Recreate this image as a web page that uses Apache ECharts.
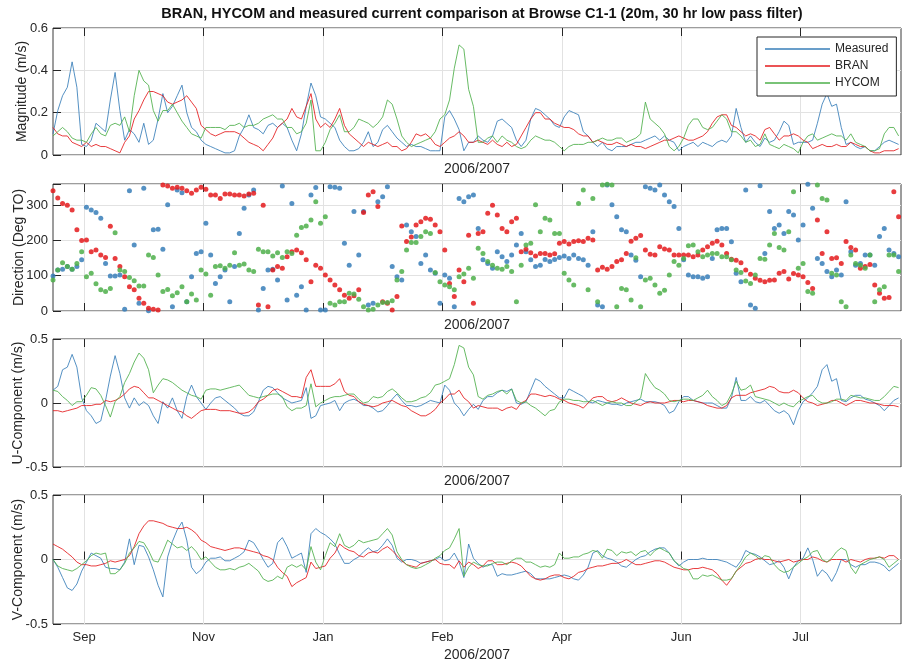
<!DOCTYPE html>
<html>
<head>
<meta charset="utf-8">
<script src="https://cdn.jsdelivr.net/npm/echarts@6/dist/echarts.min.js"></script>
<style>html,body{margin:0;padding:0;background:#fff}#c{width:902px;height:664px}</style>
</head>
<body>
<div id="c"></div>
<script>
// Time grid: day numbers (datenum - 732900), first sample and spacing
const startDay = 37, stepDays = 2;
const xMin = 37, xMax = 392;
const tickDays = [50, 100, 150, 200, 250, 300, 350];
const tickLabels = ['Sep', 'Nov', 'Jan', 'Feb', 'Apr', 'Jun', 'Jul'];
const xName = '2006/2007';
const titleText = 'BRAN, HYCOM and measured current comparison at Browse C1-1 (20m, 30 hr low pass filter)';
const seriesNames = ['Measured', 'BRAN', 'HYCOM'];

const magMeas = [0.10,0.21,0.28,0.32,0.44,0.32,0.05,0.04,0.07,0.15,
0.13,0.11,0.26,0.39,0.21,0.07,0.12,0.10,0.06,0.15,
0.05,0.07,0.17,0.29,0.20,0.23,0.28,0.33,0.20,0.13,
0.11,0.07,0.05,0.04,0.03,0.02,0.01,0.01,0.02,0.09,
0.13,0.19,0.13,0.12,0.10,0.14,0.15,0.13,0.15,0.13,
0.07,0.02,0.10,0.23,0.34,0.28,0.18,0.17,0.15,0.13,
0.07,0.04,0.02,0.02,0.03,0.06,0.11,0.04,0.06,0.12,
0.14,0.11,0.08,0.06,0.04,0.05,0.04,0.04,0.03,0.02,
0.02,0.02,0.18,0.21,0.17,0.12,0.02,0.06,0.06,0.09,
0.07,0.06,0.09,0.16,0.17,0.15,0.13,0.07,0.04,0.07,
0.17,0.22,0.21,0.19,0.17,0.14,0.13,0.18,0.21,0.20,
0.19,0.11,0.09,0.06,0.04,0.06,0.03,0.02,0.04,0.04,
0.04,0.05,0.06,0.06,0.07,0.08,0.09,0.07,0.09,0.07,
0.06,0.02,0.04,0.05,0.06,0.04,0.06,0.05,0.04,0.06,
0.07,0.06,0.09,0.22,0.13,0.06,0.09,0.06,0.04,0.08,
0.06,0.07,0.11,0.16,0.14,0.05,0.06,0.06,0.06,0.07,
0.15,0.24,0.29,0.23,0.24,0.13,0.05,0.06,0.04,0.03,
0.04,0.02,0.02,0.04,0.06,0.07,0.06,0.05];

const magBran = [0.13,0.10,0.09,0.09,0.06,0.05,0.04,0.06,0.04,0.05,
0.04,0.04,0.03,0.02,0.01,0.06,0.09,0.17,0.21,0.26,
0.30,0.30,0.29,0.28,0.25,0.24,0.25,0.26,0.28,0.25,
0.22,0.14,0.12,0.10,0.09,0.10,0.11,0.11,0.11,0.10,
0.08,0.06,0.05,0.04,0.02,0.05,0.08,0.13,0.15,0.17,
0.22,0.18,0.17,0.23,0.29,0.17,0.13,0.15,0.13,0.17,
0.22,0.14,0.10,0.08,0.06,0.04,0.06,0.05,0.04,0.05,
0.06,0.04,0.04,0.02,0.03,0.06,0.10,0.09,0.10,0.08,
0.05,0.04,0.06,0.08,0.09,0.11,0.09,0.06,0.06,0.07,
0.06,0.05,0.07,0.05,0.04,0.06,0.04,0.05,0.09,0.13,
0.17,0.20,0.20,0.17,0.17,0.15,0.14,0.13,0.13,0.12,
0.10,0.09,0.09,0.06,0.07,0.06,0.05,0.05,0.06,0.05,
0.04,0.05,0.04,0.04,0.03,0.04,0.05,0.06,0.07,0.07,
0.08,0.09,0.08,0.07,0.07,0.08,0.09,0.11,0.15,0.18,
0.19,0.19,0.14,0.13,0.11,0.09,0.10,0.09,0.07,0.12,
0.13,0.10,0.07,0.09,0.09,0.10,0.09,0.07,0.06,0.03,
0.04,0.05,0.04,0.04,0.05,0.04,0.04,0.06,0.05,0.04,
0.04,0.02,0.01,0.01,0.02,0.02,0.02,0.03];

const magHycom = [0.09,0.11,0.13,0.11,0.08,0.07,0.07,0.06,0.10,0.13,
0.10,0.09,0.14,0.15,0.14,0.18,0.11,0.28,0.40,0.35,
0.33,0.21,0.16,0.21,0.21,0.24,0.20,0.16,0.13,0.10,
0.09,0.08,0.13,0.13,0.13,0.13,0.12,0.14,0.14,0.15,
0.13,0.14,0.14,0.15,0.17,0.18,0.19,0.17,0.17,0.13,
0.13,0.10,0.11,0.15,0.26,0.02,0.02,0.06,0.12,0.15,
0.19,0.11,0.11,0.13,0.17,0.16,0.15,0.13,0.15,0.18,
0.26,0.24,0.17,0.09,0.06,0.04,0.05,0.06,0.07,0.08,
0.11,0.17,0.19,0.26,0.41,0.52,0.50,0.31,0.23,0.06,
0.06,0.08,0.09,0.06,0.09,0.07,0.06,0.04,0.03,0.04,
0.07,0.09,0.08,0.07,0.07,0.06,0.04,0.02,0.04,0.05,
0.05,0.05,0.06,0.06,0.07,0.08,0.07,0.07,0.08,0.08,
0.06,0.07,0.08,0.10,0.25,0.17,0.15,0.13,0.10,0.04,
0.02,0.04,0.08,0.14,0.17,0.17,0.13,0.12,0.13,0.16,
0.19,0.17,0.11,0.11,0.09,0.06,0.07,0.04,0.05,0.10,
0.05,0.04,0.03,0.05,0.04,0.03,0.01,0.06,0.09,0.10,
0.07,0.08,0.09,0.10,0.09,0.09,0.07,0.10,0.06,0.05,
0.04,0.02,0.02,0.03,0.10,0.13,0.13,0.09];

const dirMeas = [99,116,118,126,118,126,145,294,286,279,
263,135,99,99,102,5,341,187,22,348,
1,230,232,175,301,12,343,335,26,97,
163,168,249,159,78,97,116,26,126,220,
291,329,343,3,64,116,118,88,354,31,
305,45,69,3,329,350,3,3,352,351,
348,192,130,282,159,282,17,22,310,324,
352,126,97,88,244,225,211,135,159,116,
107,22,102,93,12,319,310,324,329,234,
145,135,121,168,154,140,159,187,220,168,
145,126,130,146,140,146,152,156,149,159,
149,145,130,225,17,12,357,301,267,230,
225,159,144,97,352,348,343,357,329,310,
296,234,145,102,97,97,93,97,149,230,
234,234,196,107,83,343,17,8,355,163,
282,234,244,220,282,272,201,244,359,291,
149,135,112,97,116,102,310,168,130,135,
159,159,130,211,234,173,163,154];

const dirBran = [341,320,305,300,286,230,200,201,168,173,
159,152,240,149,126,97,69,60,36,22,
8,5,3,357,354,348,351,348,341,334,
343,351,345,329,329,319,332,332,329,329,
326,332,334,17,300,12,116,126,121,154,
168,173,165,145,83,130,121,102,88,74,
60,45,36,43,60,279,329,338,296,26,
22,3,41,241,197,210,244,253,263,260,
244,225,173,78,41,116,83,215,22,220,
225,277,300,272,234,225,253,263,168,175,
165,156,163,163,159,162,192,197,190,197,
199,197,206,201,116,124,118,126,140,145,
163,198,206,214,173,161,159,182,176,173,
159,159,159,159,154,159,173,182,192,198,
187,163,147,144,137,116,104,93,87,83,
87,88,107,112,91,106,102,97,81,64,
258,163,225,149,151,135,197,180,173,121,
126,132,74,50,36,38,338,267];

const dirHycom = [88,116,137,126,118,135,168,97,107,77,
60,55,64,222,116,112,95,86,71,71,
159,152,102,55,61,43,52,69,26,48,
31,116,105,45,126,128,121,130,165,130,
133,116,112,175,168,168,156,165,152,168,
163,215,237,241,258,310,249,267,22,17,
26,26,50,48,33,12,3,5,17,24,
24,29,88,112,173,194,194,211,225,220,
109,83,74,69,60,97,105,121,93,178,
163,140,130,121,118,126,112,26,130,187,
192,301,225,263,258,220,220,107,88,74,
305,343,60,319,26,357,359,357,12,64,
60,31,151,12,88,93,74,50,59,102,
140,130,149,185,187,168,154,159,163,163,
154,154,145,116,109,85,78,102,149,147,
187,220,180,173,225,338,121,135,55,50,
357,319,315,107,102,26,12,159,135,130,
121,159,26,60,69,159,159,112];

const uMeas = [0.10,0.13,0.26,0.28,0.38,0.28,0.04,-0.06,-0.10,-0.16,
-0.14,0.02,0.21,0.37,0.23,0.04,-0.04,0.04,-0.02,0.01,
-0.02,-0.10,-0.16,0.01,-0.04,0.04,-0.06,-0.12,0.05,0.14,
0.05,0.00,-0.05,0.00,0.04,0.05,0.02,-0.01,-0.04,-0.08,
-0.10,-0.10,-0.07,0.01,0.10,0.13,0.12,0.08,0.04,0.02,
0.00,0.01,0.02,0.12,-0.12,-0.10,-0.02,-0.01,0.00,0.02,
-0.06,0.00,0.02,0.03,0.01,-0.02,-0.02,-0.04,-0.07,-0.06,
-0.02,0.03,0.07,0.02,-0.02,-0.02,-0.03,-0.02,0.00,0.02,
0.01,0.00,0.14,0.10,0.00,-0.04,-0.10,-0.05,-0.01,-0.05,
0.02,0.05,0.05,0.08,0.10,0.09,0.11,0.00,-0.01,0.01,
0.10,0.19,0.17,0.13,0.10,0.07,0.04,0.04,0.11,0.09,
0.07,0.05,0.01,0.00,0.02,0.01,0.00,-0.01,-0.01,-0.02,
0.00,0.01,0.02,0.03,0.01,0.01,0.01,0.00,-0.02,-0.08,
-0.06,0.01,0.05,0.05,0.02,0.01,0.00,0.00,0.00,-0.02,
-0.04,-0.04,0.04,0.20,0.02,0.02,0.05,0.01,0.00,0.02,
-0.02,-0.06,-0.08,-0.06,-0.09,-0.17,-0.06,0.01,0.04,0.08,
0.13,0.26,0.30,0.17,0.19,0.02,0.01,0.04,0.06,0.06,
0.03,0.02,0.00,-0.02,-0.06,-0.02,0.02,0.04];

const uBran = [-0.06,-0.06,-0.07,-0.06,-0.05,-0.04,-0.02,-0.02,-0.02,-0.01,
-0.01,0.02,0.01,0.02,0.04,0.07,0.11,0.13,0.12,0.08,
0.04,0.04,0.02,0.00,-0.02,-0.04,-0.06,-0.07,-0.10,-0.12,
-0.09,-0.06,-0.05,-0.05,-0.05,-0.06,-0.06,-0.06,-0.07,-0.08,
-0.08,-0.07,-0.04,0.01,0.03,0.06,0.10,0.11,0.09,0.07,
0.05,0.05,0.04,0.20,0.26,0.13,0.13,0.13,0.13,0.15,
0.19,0.09,0.06,0.05,0.01,-0.01,-0.02,-0.03,-0.02,0.00,
0.01,0.02,0.00,-0.02,-0.03,-0.06,-0.08,-0.10,-0.10,-0.08,
-0.05,0.00,0.03,0.07,0.07,0.10,0.04,0.01,-0.04,-0.02,
-0.03,-0.04,-0.04,-0.04,-0.06,-0.04,-0.03,-0.05,0.00,0.02,
0.07,0.07,0.06,0.05,0.06,0.05,0.03,0.02,0.00,-0.01,
-0.02,-0.04,0.00,0.04,0.05,0.05,0.02,0.01,0.02,0.04,
0.02,0.00,-0.01,-0.02,0.00,0.01,0.00,0.00,0.00,0.01,
0.02,0.02,0.01,0.02,0.02,0.01,0.00,-0.02,-0.03,-0.04,
-0.04,-0.02,0.04,0.06,0.06,0.06,0.08,0.09,0.10,0.11,
0.13,0.12,0.09,0.08,0.08,0.10,0.08,0.04,0.01,0.00,
-0.02,-0.01,0.00,0.02,0.02,0.00,-0.02,0.00,0.02,0.02,
0.01,0.00,0.00,-0.01,-0.02,-0.02,-0.02,-0.03];

const uHycom = [0.10,0.09,0.05,0.02,-0.02,0.01,0.01,0.06,0.12,0.11,
0.06,-0.02,-0.11,0.01,0.05,0.16,0.23,0.32,0.39,0.35,
0.26,0.08,0.14,0.19,0.18,0.16,0.13,0.10,0.08,0.06,
0.05,0.03,0.10,0.11,0.11,0.10,0.11,0.12,0.13,0.14,
0.10,0.06,0.05,0.04,0.05,0.06,0.07,0.07,0.05,-0.03,
-0.06,-0.04,-0.04,-0.02,0.15,-0.03,0.00,0.02,0.04,0.05,
0.05,0.06,0.07,0.07,0.03,0.00,0.01,0.05,0.04,0.05,
0.09,0.11,0.08,0.04,0.01,0.01,0.02,0.04,0.05,0.08,
0.14,0.15,0.17,0.19,0.30,0.45,0.43,0.28,0.22,0.05,
0.03,0.06,0.07,0.09,0.10,0.07,0.11,0.02,0.00,0.01,
-0.02,-0.04,-0.07,-0.10,-0.06,-0.05,0.01,0.03,0.03,0.02,
0.02,0.01,0.01,0.02,0.00,-0.02,0.00,0.01,0.00,0.00,
-0.02,-0.02,0.01,0.04,0.23,0.17,0.12,0.10,0.07,0.02,
0.01,0.02,0.03,0.03,0.02,0.04,0.06,0.10,0.05,0.02,
-0.02,0.00,0.07,0.17,0.10,0.11,0.14,0.05,0.04,0.03,
0.02,0.00,-0.02,0.00,-0.02,-0.03,0.01,0.03,0.05,0.06,
0.02,0.00,0.00,0.01,0.03,0.03,0.02,0.06,0.05,0.04,
0.04,0.03,0.02,0.02,0.05,0.09,0.13,0.12];

const vMeas = [0.00,-0.06,-0.14,-0.22,-0.24,-0.19,-0.09,-0.02,0.05,0.03,
0.01,-0.06,-0.07,-0.07,-0.08,-0.02,0.16,-0.04,0.11,0.10,
0.02,-0.08,-0.20,-0.29,0.02,0.14,0.23,0.29,0.15,-0.06,
-0.11,-0.08,-0.02,0.01,0.01,0.02,-0.01,-0.01,0.01,0.03,
0.06,0.15,0.13,0.07,0.00,-0.06,-0.03,0.13,0.17,0.10,
0.01,0.03,0.05,-0.10,0.20,0.24,0.21,0.19,0.16,0.12,
0.04,-0.03,-0.03,0.00,0.02,0.06,0.09,0.06,0.07,0.11,
0.16,0.11,0.01,-0.02,0.00,0.00,-0.01,-0.03,-0.02,-0.01,
0.00,0.02,-0.01,0.00,0.05,-0.02,-0.14,0.12,0.01,-0.03,
-0.06,-0.04,-0.04,-0.13,-0.11,-0.12,-0.12,-0.11,-0.10,-0.09,
-0.11,-0.15,-0.15,-0.15,-0.15,-0.14,-0.13,-0.12,-0.13,-0.15,
-0.16,-0.12,-0.06,0.05,0.07,0.03,0.01,0.00,-0.02,-0.05,
-0.06,-0.03,0.00,0.02,0.03,0.06,0.08,0.09,0.09,0.05,
-0.01,-0.05,-0.02,0.00,0.00,0.00,0.01,0.00,0.00,0.00,
-0.01,-0.02,-0.04,-0.06,-0.01,0.07,0.05,0.04,0.02,-0.01,
-0.04,-0.03,-0.01,-0.06,-0.15,-0.06,-0.01,0.01,0.09,0.00,
-0.13,-0.08,-0.11,-0.17,-0.10,0.00,0.00,-0.04,-0.06,-0.04,
-0.04,-0.02,-0.02,-0.03,-0.05,-0.09,-0.06,-0.03];

const vBran = [0.12,0.10,0.08,0.05,0.02,-0.02,-0.04,-0.04,-0.05,-0.05,
-0.04,-0.03,-0.01,-0.02,-0.01,0.00,0.03,0.10,0.20,0.26,
0.30,0.30,0.29,0.28,0.26,0.25,0.24,0.24,0.25,0.23,
0.20,0.15,0.13,0.10,0.09,0.08,0.07,0.08,0.09,0.09,
0.08,0.07,0.06,0.05,0.03,0.02,0.00,-0.06,-0.10,-0.13,
-0.21,-0.18,-0.16,-0.14,-0.02,-0.07,-0.06,-0.05,0.01,0.05,
0.12,0.09,0.07,0.06,0.03,0.02,0.05,0.06,0.05,0.08,
0.10,0.07,0.03,-0.01,-0.04,-0.05,-0.06,-0.03,-0.02,-0.01,
0.00,-0.03,-0.04,-0.04,-0.07,-0.01,-0.06,-0.02,-0.04,-0.07,
-0.05,-0.01,-0.01,-0.04,-0.04,-0.03,-0.02,-0.03,-0.05,-0.09,
-0.13,-0.15,-0.16,-0.15,-0.13,-0.12,-0.12,-0.14,-0.15,-0.13,
-0.10,-0.09,-0.07,-0.06,-0.05,-0.05,-0.04,-0.03,-0.03,-0.02,
0.00,-0.02,-0.04,-0.04,-0.03,-0.02,-0.01,-0.01,-0.02,-0.04,
-0.06,-0.07,-0.08,-0.08,-0.07,-0.07,-0.06,-0.07,-0.08,-0.11,
-0.16,-0.20,-0.15,-0.09,-0.06,-0.03,-0.02,0.00,0.01,0.00,
0.00,-0.01,-0.02,-0.01,0.00,-0.02,-0.01,0.00,0.00,0.02,
0.01,-0.01,-0.02,0.00,0.00,0.00,-0.02,0.00,-0.01,-0.02,
0.00,0.01,0.01,0.02,0.01,0.03,0.03,0.00];

const vHycom = [0.00,-0.05,-0.07,-0.08,-0.09,-0.07,-0.04,-0.01,0.03,0.05,
0.04,0.05,-0.11,-0.11,-0.08,-0.03,0.05,0.09,0.14,0.13,
0.07,-0.01,-0.02,0.06,0.15,0.12,0.09,0.10,0.07,0.10,
0.06,0.00,0.02,-0.02,-0.06,-0.08,-0.08,-0.07,-0.08,-0.06,
-0.05,-0.03,-0.06,-0.09,-0.15,-0.17,-0.16,-0.13,-0.15,-0.06,
-0.04,-0.06,-0.04,-0.08,0.10,-0.02,-0.08,0.03,0.13,0.10,
0.20,0.11,0.09,0.11,0.15,0.13,0.14,0.15,0.16,0.20,
0.24,0.19,0.06,0.00,-0.04,-0.06,-0.07,-0.06,-0.04,-0.02,
0.01,0.03,0.07,0.09,0.16,0.24,-0.13,-0.06,-0.02,-0.04,
-0.05,-0.05,-0.03,-0.02,-0.02,-0.04,-0.01,0.01,0.01,-0.02,
-0.02,-0.04,-0.06,-0.05,-0.06,-0.04,0.05,0.01,0.01,0.02,
0.02,0.04,0.05,0.07,0.06,0.01,0.08,0.07,0.03,0.06,
0.05,0.06,0.03,0.06,0.07,0.03,0.07,0.09,0.07,0.05,
-0.01,-0.04,-0.07,-0.08,-0.15,-0.15,-0.12,-0.13,-0.12,-0.14,
-0.16,-0.16,-0.15,-0.09,-0.04,0.02,0.05,0.03,0.00,0.03,
0.02,-0.04,-0.08,-0.10,-0.09,-0.06,-0.03,0.00,0.02,0.06,
0.07,0.00,-0.02,0.01,0.06,0.09,0.07,-0.06,-0.11,-0.04,
-0.02,0.00,0.01,0.02,0.00,-0.06,-0.03,0.00];

// ---------- chart ----------
const FONT = '"Liberation Sans", Arial, Helvetica, sans-serif';
const TXT = '#262626';
const COL = ['#377eb8', '#e41a1c', '#4daf4a'];
const grids = [
  {left: 53, top: 28, width: 848, height: 127},
  {left: 53, top: 184, width: 848, height: 127},
  {left: 53, top: 339, width: 848, height: 128},
  {left: 53, top: 495, width: 848, height: 129}
].map(g => Object.assign(g, {show: true, borderColor: '#3a3a3a', borderWidth: 1, backgroundColor: '#fff',
  containLabel: false, outerBoundsMode: 'none'}));

const yDefs = [
  {min: 0, max: 0.6, interval: 0.2, name: 'Magnitude (m/s)', gap: 24},
  {min: 0, max: 360, interval: 100, name: 'Direction (Deg TO)', gap: 27},
  {min: -0.5, max: 0.5, interval: 0.5, name: 'U-Component (m/s)', gap: 28},
  {min: -0.5, max: 0.5, interval: 0.5, name: 'V-Component (m/s)', gap: 28}
];
const nameGaps = [7, 7, 7, 24];

const xAxes = [];
grids.forEach((g, gi) => {
  xAxes.push({
    type: 'value', gridIndex: gi, min: xMin, max: xMax, position: 'bottom',
    name: xName, nameLocation: 'middle', nameGap: nameGaps[gi], nameMoveOverlap: false,
    nameTextStyle: {fontFamily: FONT, fontSize: 14, color: TXT},
    axisLine: {show: false},
    axisTick: {show: true, inside: true, length: 8, customValues: tickDays, lineStyle: {color: '#262626'}},
    axisLabel: {show: gi === 3, customValues: tickDays, margin: 7, fontFamily: FONT, fontSize: 13, color: TXT,
      formatter: v => { const k = tickDays.indexOf(v); return k >= 0 ? tickLabels[k] : ''; }},
    splitLine: {show: true, lineStyle: {color: '#e2e2e2', width: 1}}
  });
  xAxes.push({
    type: 'value', gridIndex: gi, min: xMin, max: xMax, position: 'top',
    axisLine: {show: false},
    axisTick: {show: true, inside: true, length: 8, customValues: tickDays, lineStyle: {color: '#262626'}},
    axisLabel: {show: false, customValues: tickDays},
    splitLine: {show: false}
  });
});

const yAxes = yDefs.map((d, gi) => ({
  type: 'value', gridIndex: gi, min: d.min, max: d.max, interval: d.interval,
  name: d.name, nameLocation: 'middle', nameGap: d.gap, nameRotate: 90, nameMoveOverlap: false,
  nameTextStyle: {fontFamily: FONT, fontSize: 14, color: TXT},
  axisLine: {show: false},
  axisTick: {show: true, inside: true, length: 8, lineStyle: {color: '#262626'}},
  axisLabel: {margin: 5, fontFamily: FONT, fontSize: 13, color: TXT,
    formatter: v => (gi === 1 && v % 100 !== 0) ? '' : String(v)},
  splitLine: {show: true, lineStyle: {color: '#e2e2e2', width: 1}}
}));

function pts(arr) { return arr.map((v, i) => [startDay + i * stepDays, v]); }
function line(name, arr, gi, ci) {
  return {name, type: 'line', xAxisIndex: gi * 2, yAxisIndex: gi, data: pts(arr),
    symbol: 'none', showSymbol: false, animation: false,
    lineStyle: {width: 1, color: COL[ci], opacity: 0.85}, itemStyle: {color: COL[ci]}};
}
function dots(name, arr, ci) {
  return {name, type: 'scatter', xAxisIndex: 2, yAxisIndex: 1, data: pts(arr),
    symbolSize: 5, animation: false, itemStyle: {color: COL[ci], opacity: 0.85}};
}

const series = [
  line(seriesNames[0], magMeas, 0, 0), line(seriesNames[1], magBran, 0, 1), line(seriesNames[2], magHycom, 0, 2),
  dots(seriesNames[0], dirMeas, 0), dots(seriesNames[1], dirBran, 1), dots(seriesNames[2], dirHycom, 2),
  line(seriesNames[0], uMeas, 2, 0), line(seriesNames[1], uBran, 2, 1), line(seriesNames[2], uHycom, 2, 2),
  line(seriesNames[0], vMeas, 3, 0), line(seriesNames[1], vBran, 3, 1), line(seriesNames[2], vHycom, 3, 2)
];

const chart = echarts.init(document.getElementById('c'), null, {renderer: 'canvas'});
chart.setOption({
  animation: false,
  backgroundColor: '#fff',
  graphic: [{type: 'text', x: 482, y: 14, z: 100,
    style: {text: titleText, fontFamily: FONT, fontSize: 14.5, fontWeight: 'bold', fill: '#111',
      align: 'center', verticalAlign: 'middle'}}],
  legend: {
    data: seriesNames, orient: 'vertical', left: 757, top: 37,
    padding: [6, 8, 7, 8], itemGap: 5, itemWidth: 65, itemHeight: 1.5, itemTextGap: 4,
    icon: 'rect', borderColor: '#262626', borderWidth: 1, backgroundColor: '#fff',
    textStyle: {fontFamily: FONT, fontSize: 12, color: TXT}
  },
  grid: grids,
  xAxis: xAxes,
  yAxis: yAxes,
  series
});
</script>
</body>
</html>
